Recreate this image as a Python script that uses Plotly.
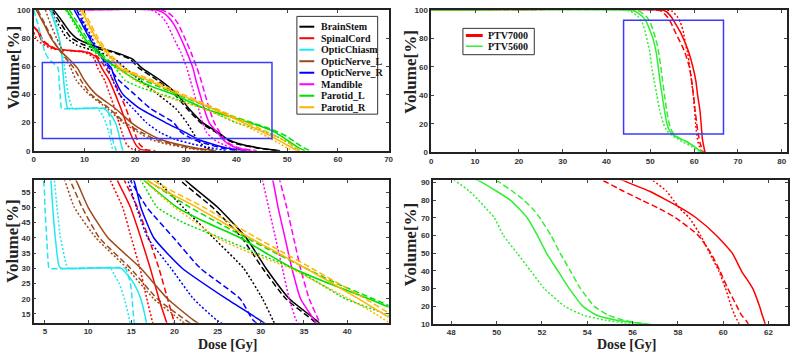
import plotly.graph_objects as go

W, H = 797, 359

# ---------------- data (dose in Gy at given volume levels in %) ----------------
organs = ["BrainStem", "SpinalCord", "OpticChiasm", "OpticNerve_L",
          "OpticNerve_R", "Mandible", "Parotid_L", "Parotid_R"]
organ_colors = ["#000000", "#ff0000", "#22e6f0", "#9c4a1a",
                "#0000ff", "#ff00ff", "#00e000", "#ffb400"]

brainstem_vol = [100, 95, 90, 85, 80, 75, 72, 70, 65, 58.8, 50, 40, 30, 20, 13, 8, 5, 2, 0]
brainstem_solid = [3.9, 5, 6, 7, 8.4, 11.4, 14, 16, 19.5, 21.3, 25, 28.3, 30.6, 33.3, 36.4, 38.3, 40.5, 44.5, 48.6]
brainstem_dash = [3.5, 4.5, 5.4, 6.3, 7.4, 10, 13, 15.5, 19, 20.7, 24.4, 27.8, 30.2, 32.9, 36, 38, 40, 44, 48]
brainstem_dot = [3.2, 4, 4.8, 5.6, 6.5, 8.5, 11, 13, 16, 18, 21, 24.5, 28, 30.2, 31.4, 32.2, 33, 34, 35.5]

spinal_vol = [88, 84, 78, 72.5, 70, 67, 65, 58.8, 50, 40, 30, 20, 13, 8, 4, 1, 0]
spinal_solid = [0, 0.9, 1.6, 4, 10.4, 12.2, 12.6, 13.4, 14.9, 16.1, 17.2, 18.2, 19, 19.6, 20.2, 21, 23]
spinal_dash = [0, 1.1, 1.9, 4.3, 10.6, 12.5, 13, 14.2, 15.7, 17, 18.2, 19.2, 19.9, 20.4, 21, 22, 24]
spinal_dot = [None, 0, 0.8, 3.5, 9.8, 11.6, 12, 12.6, 14, 15, 16, 16.8, 17.4, 17.9, 18.4, 19.5, 21]

chiasm_vol = [100, 95, 90, 80, 70, 65, 58.8, 50, 40, 31, 30, 30, 28, 25, 20, 13, 5, 0]
chiasm_solid = [3.3, 3.7, 4.2, 5, 5.5, 5.6, 5.7, 5.9, 6.2, 6.6, 6.9, 13.8, 14.5, 15.3, 16.1, 16.7, 17.2, 17.6]
chiasm_dash = [0, 0.4, 0.8, 1.5, 2.2, 3, 4.8, 5, 5.2, 5.4, 5.5, 14.3, 14.6, 14.9, 15.1, 15.3, 15.8, 16.3]
chiasm_dot = [3.5, 4, 4.5, 5, 5.5, 5.9, 6.1, 6.4, 6.8, 7.5, 7.7, 12.6, 13, 13.6, 14.2, 14.8, 15.3, 15.6]

nerve_vol = [100, 90, 80, 70, 65, 58.8, 50, 40, 30, 20, 13, 8, 5, 2, 0]
nerveL_solid = [0.5, 2, 3.4, 5.5, 7, 8.6, 10, 12.3, 16.1, 19.2, 22.2, 25, 28, 32, 36]
nerveL_dash = [0.8, 2.2, 3.6, 5.3, 6.5, 7.9, 9.3, 11.3, 14.9, 18, 21.3, 24, 27, 31, 35]
nerveL_dot = [2.3, 3.3, 4.5, 5.8, 6.4, 7.3, 8.4, 10.9, 14.5, 17.6, 20.7, 23, 26, 30, 34]
nerveR_solid = [8, 9.5, 11, 12.8, 13.8, 15.3, 16.1, 17.6, 20.9, 26, 29.9, 32.5, 35, 38, 42]
nerveR_dash = [8.5, 9.8, 11.2, 12.6, 13.6, 14.9, 16.8, 19.9, 23, 27.6, 29.1, 31.5, 34, 37, 40]
nerveR_dot = [9, 10, 11.5, 12.8, 13.5, 14.6, 15.6, 16.9, 19.6, 22.2, 24.9, 28, 31, 35, 38]

mandible_vol = [100, 100, 98, 95, 90, 80, 70, 58.8, 50, 40, 30, 20, 13, 8, 5, 2, 0]
mandible_solid = [9, 24, 25.5, 26.5, 27.6, 29, 30.2, 31.4, 32, 32.8, 33.6, 34.6, 36.2, 37.3, 38.3, 40, 43]
mandible_dash = [9, 25, 26.5, 27.5, 28.5, 29.8, 31, 32.2, 33, 33.8, 34.6, 35.6, 36.7, 37.6, 38.6, 40.5, 44]
mandible_dot = [9, 23, 24.3, 25.3, 26.3, 27.6, 29, 30.2, 30.9, 31.7, 32.5, 33.3, 34.1, 35.5, 37, 39, 42]

parotid_vol = [100, 90, 80, 70, 65, 58.8, 50, 45, 40, 35, 30, 25, 20, 15, 10, 5, 2, 0]
parotidL_solid = [6.5, 8.3, 10, 12.5, 14, 16.5, 20.3, 23.7, 27.6, 30.6, 33.7, 37.9, 42.5, 46.5, 49, 51, 52.3, 53.5]
parotidL_dash = [7, 8.8, 10.5, 13, 14.5, 16.9, 21.8, 25, 28.3, 31.7, 35.2, 38.8, 43, 47, 50, 52, 53.3, 54.5]
parotidL_dot = [6.3, 8, 9.6, 12, 13.8, 16.1, 18, 21, 25.3, 29.5, 33.7, 36.8, 39.8, 44.4, 48, 50.5, 51.5, 52.5]
parotidR_solid = [9.4, 10.8, 12.3, 14.3, 15.5, 16.9, 22.6, 25.6, 28.7, 32, 35.2, 38.3, 41.3, 44.2, 47, 49.5, 51, 52]
parotidR_dash = [9.8, 11.2, 12.7, 14.7, 16, 17.6, 23.4, 26.4, 29.5, 32.7, 35.9, 39, 42.1, 45, 48, 50.5, 51.8, 52.5]
parotidR_dot = [9, 10.4, 12, 14, 15.2, 16.5, 20, 22.5, 24.9, 28.8, 33.4, 36.8, 40.2, 43.3, 46, 48.5, 50, 51]

ptv_names = ["PTV7000", "PTV5600"]
ptv_colors = ["#ff0000", "#33ee33"]
ptv_vol = [100, 100, 99, 95, 91, 85, 80, 75, 70, 60, 50, 40, 30, 20, 15, 12, 10, 7, 4, 1, 0]
ptv7000_solid = [0, 52, 53.5, 54.8, 55.6, 56.75, 57.5, 58.2, 58.8, 59.7, 60.4, 60.8, 61.3, 61.6, 61.72, 61.8, 61.85, 62.0, 62.2, 62.4, 62.5]
ptv7000_dash = [0, 51, 52.6, 53.9, 54.7, 55.6, 56.4, 57.2, 57.9, 58.9, 59.45, 59.85, 60.2, 60.6, 60.8, 61, 61.1, 61.3, 61.6, 61.9, 62.1]
ptv7000_dot = [0, 53.5, 55, 56.2, 56.9, 57.5, 57.8, 58.1, 58.5, 59, 59.4, 59.8, 60.1, 60.35, 60.5, 60.62, 60.7, 60.9, 61.2, 61.6, 61.9]
ptv5600_solid = [0, 44, 46.5, 48.3, 49.2, 50, 50.6, 51, 51.35, 51.8, 52.2, 52.7, 53.2, 53.8, 54.4, 55.3, 56.5, 58.5, 60, 61.3, 61.8]
ptv5600_dash = [0, 45, 47.5, 49.2, 50, 50.7, 51.2, 51.6, 51.9, 52.4, 52.8, 53.25, 53.7, 54.3, 54.9, 55.6, 56.5, 58.5, 60, 61.3, 61.8]
ptv5600_dot = [0, 43, 45.5, 47.3, 48.15, 48.8, 49.2, 49.55, 49.9, 50.3, 50.9, 51.5, 52.1, 53, 53.8, 54.8, 55.9, 57.5, 59.5, 61, 61.5]

oar_curves = [
    (brainstem_vol, brainstem_solid, brainstem_dash, brainstem_dot),
    (spinal_vol, spinal_solid, spinal_dash, spinal_dot),
    (chiasm_vol, chiasm_solid, chiasm_dash, chiasm_dot),
    (nerve_vol, nerveL_solid, nerveL_dash, nerveL_dot),
    (nerve_vol, nerveR_solid, nerveR_dash, nerveR_dot),
    (mandible_vol, mandible_solid, mandible_dash, mandible_dot),
    (parotid_vol, parotidL_solid, parotidL_dash, parotidL_dot),
    (parotid_vol, parotidR_solid, parotidR_dash, parotidR_dot),
]
ptv_curves = [
    (ptv_vol, ptv7000_solid, ptv7000_dash, ptv7000_dot),
    (ptv_vol, ptv5600_solid, ptv5600_dash, ptv5600_dot),
]

# zoom rectangles (dose, volume)
oar_zoom_box = [1.7, 47.0, 8.7, 62.6]
ptv_zoom_box = [43.9, 66.7, 12.8, 92.7]

# ---------------- figure ----------------
def px(x):
    return x / W

def py(y):
    return 1 - y / H

dashes = ["solid", "6px,3px", "2px,2px"]

fig = go.Figure()

def add_set(curves, colors, names, axes):
    for (vol, s, d, t), col, name in zip(curves, colors, names):
        for dose, dash in zip((s, d, t), dashes):
            for xa, ya in axes:
                fig.add_trace(go.Scatter(
                    x=dose, y=vol, mode="lines", name=name, showlegend=False,
                    line=dict(color=col, width=1.5, dash=dash, shape="spline", smoothing=0.5),
                    xaxis=xa, yaxis=ya, hoverinfo="skip"))

add_set(oar_curves, organ_colors, organs, [("x", "y"), ("x3", "y3")])
add_set(ptv_curves, ptv_colors, ptv_names, [("x2", "y2"), ("x4", "y4")])

tickfont = dict(family="Arial", size=8, color="#333333", weight="bold")
axis_common = dict(showgrid=False, zeroline=False, showline=True, linecolor="#222222",
                   linewidth=1.5, mirror="ticks", ticks="inside", ticklen=3,
                   tickcolor="#444444", tickfont=tickfont)

def ax(domain, rng, dtick, tick0=0, **kw):
    d = dict(axis_common)
    d.update(domain=domain, range=rng, dtick=dtick, tick0=tick0, autorange=False)
    d.update(kw)
    return d

fig.update_layout(
    width=W, height=H, margin=dict(l=0, r=0, t=0, b=0),
    paper_bgcolor="white", plot_bgcolor="white", showlegend=False,
    xaxis=ax([px(32), px(390)], [0, 70], 10, anchor="y"),
    yaxis=ax([py(150.5), py(6)], [0, 100], 20, anchor="x"),
    xaxis2=ax([px(433), px(792)], [0, 81.2], 10, anchor="y2"),
    yaxis2=ax([py(152), py(6)], [0, 100], 20, anchor="x2"),
    xaxis3=ax([px(32), px(390)], [3.7, 44.8], 5, 5, anchor="y3"),
    yaxis3=ax([py(327), py(181)], [12.1, 58.8], 5, 5, anchor="x3"),
    xaxis4=ax([px(435), px(793)], [47.2, 62.86], 2, 48, anchor="y4"),
    yaxis4=ax([py(328), py(181)], [10, 91.1], 10, 10, anchor="x4"),
)

shapes = []
for (x0, x1, y0, y1), xr, yr in [(oar_zoom_box, "x", "y"), (ptv_zoom_box, "x2", "y2")]:
    shapes.append(dict(type="rect", xref=xr, yref=yr, x0=x0, x1=x1, y0=y0, y1=y1,
                       line=dict(color="#3a3aff", width=1.5)))

annotations = []
title_font_v = dict(family="Liberation Serif, Times New Roman, serif", size=17,
                    color="#222222", weight="bold")
title_font_h = dict(family="Liberation Serif, Times New Roman, serif", size=14,
                    color="#222222", weight="bold")
for cx, cy in [(11, 65), (412, 70), (11, 243), (412, 247)]:
    annotations.append(dict(text="Volume[%]", x=px(cx), y=py(cy), xref="paper", yref="paper",
                            showarrow=False, textangle=-90, font=title_font_v,
                            xanchor="center", yanchor="middle"))
for cx, cy in [(228, 349), (631, 349)]:
    annotations.append(dict(text="Dose [Gy]", x=px(cx), y=py(cy), xref="paper", yref="paper",
                            showarrow=False, font=title_font_h,
                            xanchor="center", yanchor="middle"))

# legend boxes (drawn as layout decorations)
leg_font = dict(family="Liberation Serif, Times New Roman, serif", size=10,
                color="#111111", weight="bold")

def legend(names, colors, box, first_y, step, line_x, text_x, widths):
    x0, x1, y0, y1 = box
    shapes.append(dict(type="rect", xref="paper", yref="paper",
                       x0=px(x0), x1=px(x1), y0=py(y1), y1=py(y0),
                       line=dict(color="#333333", width=1), fillcolor="white", layer="above"))
    for i, (n, c) in enumerate(zip(names, colors)):
        yy = first_y + i * step
        shapes.append(dict(type="line", xref="paper", yref="paper",
                           x0=px(line_x[0]), x1=px(line_x[1]), y0=py(yy), y1=py(yy),
                           line=dict(color=c, width=widths[i]), layer="above"))
        annotations.append(dict(text=n, x=px(text_x), y=py(yy), xref="paper", yref="paper",
                                showarrow=False, font=leg_font, xanchor="left",
                                yanchor="middle"))

legend(organs, organ_colors, (297.5, 379, 12.7, 113), 23.3, 11.8, (300, 315), 320,
       [2] * len(organs))
legend(ptv_names, ptv_colors, (465, 537, 25, 52), 32.3, 11, (468, 485), 488, [3, 1.5])

fig.update_layout(shapes=shapes, annotations=annotations)
fig.write_html("out.html")
